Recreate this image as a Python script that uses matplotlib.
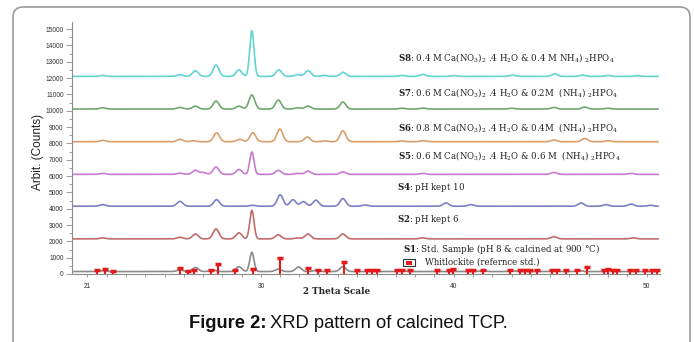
import numpy as np
import matplotlib
matplotlib.use("Agg")
import matplotlib.pyplot as plt
from matplotlib.patches import FancyBboxPatch, Rectangle
from matplotlib.transforms import IdentityTransform

plt.rcParams["mathtext.fontset"] = "dejavuserif"

W, H = 694, 342

# ---------------- data ----------------
two_theta_min, two_theta_max = 20.25, 50.6

s8_base = 12100
s8_pos = [21.8, 25.8, 26.6, 27.67, 28.86, 29.53, 30.93, 31.9, 32.44, 33.3, 34.25, 37.3, 38.39, 40.0, 43.06, 45.23, 46.68, 48.0, 49.5]
s8_h   = [60, 100, 350, 700, 400, 2800, 400, 100, 350, 60, 250, 60, 120, 50, 80, 150, 80, 60, 50]

s7_base = 10100
s7_pos = [21.8, 25.8, 26.6, 27.67, 28.86, 29.53, 30.9, 31.9, 32.44, 34.25, 37.3, 38.4, 43.0, 45.2, 46.8, 48.0]
s7_h   = [80, 100, 180, 490, 180, 860, 550, 80, 180, 430, 50, 60, 50, 100, 120, 50]

s6_base = 8100
s6_pos = [21.8, 25.8, 26.5, 27.7, 28.9, 29.58, 30.98, 32.4, 33.3, 34.25, 37.3, 38.4, 45.2, 46.8, 48.0]
s6_h   = [80, 150, 60, 550, 150, 550, 780, 290, 50, 670, 50, 60, 100, 200, 60]

s5_base = 6100
s5_pos = [21.8, 25.8, 26.6, 27.0, 27.67, 28.86, 29.53, 30.9, 31.9, 32.44, 34.25, 38.4, 45.2, 49.2]
s5_h   = [60, 80, 250, 120, 450, 300, 1370, 250, 60, 200, 150, 60, 120, 60]

s4_base = 4150
s4_pos = [21.8, 25.8, 27.7, 29.55, 31.0, 31.66, 32.2, 32.85, 34.25, 35.4, 39.6, 40.9, 46.6, 47.9, 49.2, 50.2]
s4_h   = [100, 300, 400, 60, 700, 400, 280, 370, 470, 80, 200, 100, 200, 100, 130, 60]

s2_base = 2150
s2_pos = [21.8, 25.8, 26.6, 27.67, 28.86, 29.53, 30.9, 31.9, 32.44, 34.25, 38.4, 45.2, 49.3]
s2_h   = [60, 100, 300, 610, 370, 1750, 250, 60, 300, 300, 60, 140, 60]

s1_base = 150
s1_pos = [21.8, 25.8, 26.6, 27.5, 28.86, 29.53, 30.9, 31.95, 32.9, 34.25, 37.3, 41.5, 43.0, 45.2, 46.5, 48.0]
s1_h   = [50, 100, 250, 100, 300, 1180, 150, 280, 100, 300, 60, 50, 50, 60, 60, 60]

whit_pos = [21.50, 21.92, 22.33, 25.80, 26.22, 26.53, 27.41, 27.77, 28.65, 29.59, 30.98, 32.44,
            32.95, 33.42, 34.30, 34.97, 35.49, 35.75, 36.01, 37.05, 37.31, 37.72, 39.12, 39.74,
            39.95, 40.73, 40.98, 41.50, 42.90, 43.42, 43.68, 43.94, 44.30, 45.08, 45.34, 45.85,
            46.42, 46.89, 47.82, 47.98, 48.24, 48.45, 49.12, 49.48, 49.90, 50.26, 50.52]
whit_h = [250, 300, 200, 390, 180, 220, 230, 610, 220, 320, 980, 370,
          250, 250, 750, 250, 250, 220, 220, 220, 250, 220, 220, 250,
          300, 220, 250, 220, 220, 250, 250, 220, 220, 220, 250, 220,
          220, 450, 250, 300, 250, 220, 220, 250, 220, 220, 220]

series_labels = [
    r"$\mathbf{S8}$: 0.4 M Ca(NO$_3$)$_2$ .4 H$_2$O & 0.4 M NH$_4$) $_2$HPO$_4$",
    r"$\mathbf{S7}$: 0.6 M Ca(NO$_3$)$_2$ .4 H$_2$O & 0.2M  (NH$_4$) $_2$HPO$_4$",
    r"$\mathbf{S6}$: 0.8 M Ca(NO$_3$)$_2$ .4 H$_2$O & 0.4M  (NH$_4$) $_2$HPO$_4$",
    r"$\mathbf{S5}$: 0.6 M Ca(NO$_3$)$_2$ .4 H$_2$O & 0.6 M  (NH$_4$) $_2$HPO$_4$",
    r"$\mathbf{S4}$: pH kept 10",
    r"$\mathbf{S2}$: pH kept 6",
    r"$\mathbf{S1}$: Std. Sample (pH 8 & calcined at 900 °C)",
]
whit_label = "Whitlockite (refernce std.)"

y_ticks = list(range(0, 15001, 1000))
x_tick_vals = [21, 30, 40, 50]
x_tick_labels = ["21", "30", "40", "50"]

# ---------------- figure ----------------
fig = plt.figure(figsize=(W / 100, H / 100), dpi=100)
fig.patch.set_facecolor("white")

def fx(x):
    return x / W

def fy(y):
    return 1 - y / H

ax_l, ax_r, ax_t, ax_b = 72, 660, 22, 274
ax = fig.add_axes([fx(ax_l), fy(ax_b), (ax_r - ax_l) / W, (ax_b - ax_t) / H])

x = np.linspace(two_theta_min, two_theta_max, 2000)

def profile(base, pos, hts):
    y = np.full_like(x, float(base))
    for p, h in zip(pos, hts):
        s = 0.11 if h > 1000 else 0.15
        y += h * np.exp(-0.5 * ((x - p) / s) ** 2)
    return y

series = [
    (s8_base, s8_pos, s8_h, "#62d4d2"),
    (s7_base, s7_pos, s7_h, "#6ea86e"),
    (s6_base, s6_pos, s6_h, "#d9a06c"),
    (s5_base, s5_pos, s5_h, "#c77ad0"),
    (s4_base, s4_pos, s4_h, "#7a80c2"),
    (s2_base, s2_pos, s2_h, "#c36b6b"),
    (s1_base, s1_pos, s1_h, "#8a8a8a"),
]
for base, pos, hts, col in series:
    ax.plot(x, profile(base, pos, hts), color=col, lw=1.2)

ax.vlines(whit_pos, 0, whit_h, color="#e41a1a", lw=1.5)
ax.plot(whit_pos, whit_h, ls="none", marker="_", ms=5, mew=2.5, color="#e41a1a")

ax.set_xlim(20.2, 50.7)
ax.set_ylim(0, 15430)
for s in ["top", "right"]:
    ax.spines[s].set_visible(False)
for s in ["left", "bottom"]:
    ax.spines[s].set_color("#8c8c8c")
    ax.spines[s].set_linewidth(0.8)

ax.set_yticks(y_ticks)
ax.set_yticklabels([str(v) for v in y_ticks])
ax.set_yticks(np.arange(500, 15001, 1000), minor=True)
ax.tick_params(axis="y", which="major", length=4, width=0.6, color="#8c8c8c",
               labelsize=4.8, labelcolor="#333333", pad=2)
ax.tick_params(axis="y", which="minor", length=2.5, width=0.6, color="#8c8c8c")

ax.set_xticks(x_tick_vals)
ax.set_xticklabels(x_tick_labels)
ax.set_xticks(np.arange(21, 51, 1), minor=True)
ax.tick_params(axis="x", which="both", length=2.5, width=0.6, color="#8c8c8c",
               labelsize=4.8, labelcolor="#333333", pad=4)

for lbl in ax.get_xticklabels() + ax.get_yticklabels():
    lbl.set_family("Liberation Sans")

# series labels
label_px = [(398, 57), (398, 93), (398, 128), (398, 155), (397, 188), (397, 220), (403, 249)]
for (px, py), txt in zip(label_px, series_labels):
    fig.text(fx(px), fy(py), txt, family="DejaVu Serif", fontsize=6.2,
             color="#222222", va="center", ha="left")

# whitlockite legend
fig.add_artist(Rectangle((403, H - 266), 12, 7, transform=IdentityTransform(),
                         facecolor="white", edgecolor="#333333", lw=0.8))
fig.add_artist(Rectangle((406, H - 264.5), 6, 4, transform=IdentityTransform(),
                         facecolor="#e41a1a", edgecolor="none"))
fig.text(fx(425), fy(262), whit_label, family="DejaVu Serif", fontsize=6.2,
         color="#222222", va="center", ha="left")

# axis titles
fig.text(fx(337), fy(292), "2 Theta Scale", family="DejaVu Serif", fontsize=6.3,
         fontweight="bold", color="#222222", ha="center", va="center")
fig.text(fx(38), fy(152), "Arbit. (Counts)", family="Liberation Sans", fontsize=8.5,
         color="#222222", rotation=90, ha="center", va="center")

# outer rounded box
fig.add_artist(FancyBboxPatch((13, -30), 677, H - 7 + 30,
                              boxstyle="round,pad=0,rounding_size=10",
                              transform=IdentityTransform(), facecolor="none",
                              edgecolor="#9a9a9a", lw=1.2))

# caption
t1 = fig.text(fx(189), fy(323), "Figure 2:", family="Liberation Sans", fontsize=13.2,
              fontweight="bold", color="#111111", ha="left", va="center")
fig.canvas.draw()
bb = t1.get_window_extent()
fig.text((bb.x1 + 4) / W, fy(323), "XRD pattern of calcined TCP.", family="Liberation Sans",
         fontsize=13.2, color="#111111", ha="left", va="center")

fig.savefig("out.png", dpi=100, facecolor="white")
